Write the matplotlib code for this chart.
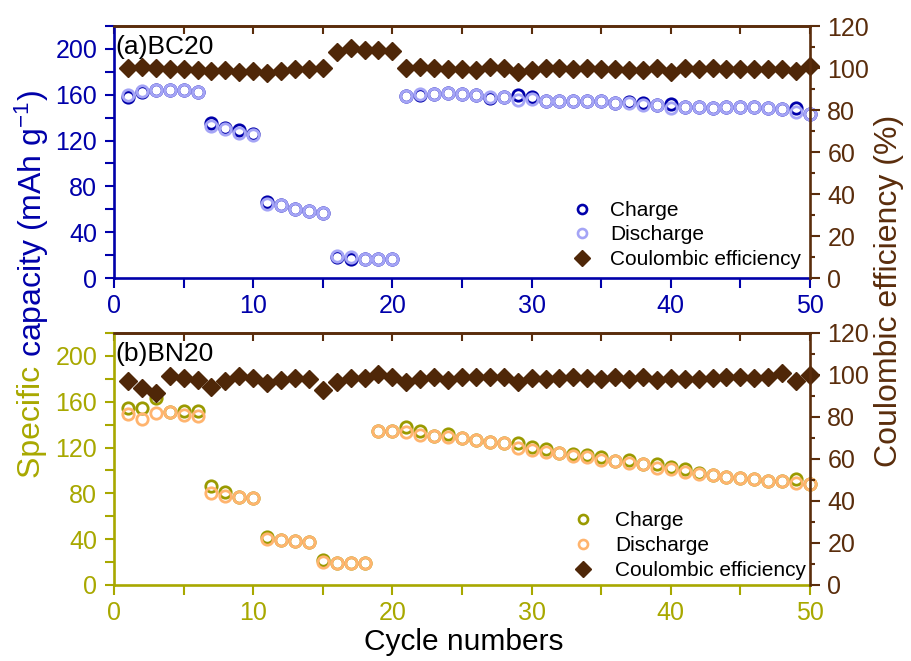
import matplotlib
matplotlib.use("Agg")
import matplotlib.pyplot as plt
from matplotlib.lines import Line2D
from matplotlib.ticker import MultipleLocator
import numpy as np

plt.rcParams['font.family'] = ['Liberation Sans', 'DejaVu Sans']
plt.rcParams['mathtext.fontset'] = 'custom'
plt.rcParams['mathtext.rm'] = 'Liberation Sans'
plt.rcParams['mathtext.it'] = 'Liberation Sans:italic'
plt.rcParams['mathtext.bf'] = 'Liberation Sans:bold'

cycles = list(range(1, 51))

# (a) BC20
bc_charge = [158, 162, 164, 164, 164, 162.5, 135, 131, 129.2, 125.5,
             66.5, 64, 60, 58.5, 56.5, 18, 17, 16.5, 16.3, 16.3,
             158.5, 160, 160.6, 161.2, 160.6, 159.8, 157, 157.7, 159.8, 157.7,
             154.8, 154.8, 154.8, 154.8, 154.2, 152.5, 153.9, 152.5, 150.8, 151.9,
             149.6, 149, 148.4, 149, 149, 149, 148.1, 147.2, 148.1, 143.2]
bc_discharge = [159.5, 163, 164, 164, 164, 162.5, 133, 130.5, 126.3, 124.8,
                64.5, 63.5, 60, 58.5, 56.5, 19.5, 18, 17, 16.3, 16.3,
                159, 161, 160.6, 161.2, 160.6, 159.8, 158, 157.7, 155.4, 156,
                154.8, 154.8, 154.8, 154.8, 154.2, 152.5, 152.5, 151.1, 150.8, 148.1,
                149.6, 149, 148.4, 149, 149, 149, 148.1, 147.2, 145.3, 143.2]
bc_ce = [100, 100.5, 100, 99.6, 99.4, 99, 98.5, 99, 98, 98.7,
         97.5, 98.4, 99.4, 99.6, 100, 107.5, 109.4, 108.4, 108.4, 108.2,
         100, 100.6, 100, 99.4, 99.4, 99, 100.6, 99.8, 98.2, 99,
         100.1, 99.8, 99.7, 99.8, 99.7, 99.5, 99, 99, 100.1, 98.2,
         99.8, 99.5, 100.1, 99.7, 99.5, 99.5, 99.5, 99.4, 98.6, 101]

# (b) BN20
bn_charge = [154.3, 154.3, 163.6, 150.8, 152.2, 152.2, 86.5, 81.5, 77.1, 76.3,
             42.2, 39.3, 38.7, 37.8, 21.8, 19.5, 19.2, 19.2, 134.5, 134.5,
             137.7, 134.5, 130.1, 131.5, 128.5, 126.6, 125.2, 124.3, 124.3, 120.8,
             118.5, 115.6, 114.1, 113.5, 111.5, 108.6, 109.2, 105.4, 105.7, 103.3,
             101, 98.1, 95.8, 94.1, 93.2, 92.3, 90.8, 91.1, 92.3, 87.9]
bn_discharge = [149.3, 144.7, 150, 150.8, 148.8, 147.6, 80.6, 77.7, 77.1, 76.3,
                40.2, 39.3, 38.7, 37.8, 19.8, 19.5, 19.2, 19.2, 134.5, 134.5,
                133.3, 131, 130.1, 129.5, 128, 126.6, 125.2, 124.3, 119.9, 117.9,
                115.9, 115.6, 112.7, 112.1, 109.2, 108.6, 106.8, 105.4, 102.5, 101,
                99, 96.7, 95.8, 94.1, 93.2, 92.3, 90.8, 90.6, 88.8, 87.9]
bn_ce = [97.1, 93.7, 91.3, 99.5, 98.4, 97.6, 94.4, 97.1, 99.5, 98.7,
         96, 97.6, 98.4, 98.1, 92.9, 96.8, 98.4, 98.4, 100.3, 99.2,
         96.8, 98, 99, 97.8, 99.2, 99.2, 99.2, 98.9, 96.8, 98.4,
         97.9, 98.7, 99.2, 98.7, 98.1, 99.2, 97.9, 99.2, 97.6, 98.4,
         98.1, 98.1, 98.7, 98.9, 98.9, 98.4, 98.9, 101.1, 97.1, 100]

panel_labels = ["(a)BC20", "(b)BN20"]
legend_labels = ["Charge", "Discharge", "Coulombic efficiency"]

BLUE = "#0000AA"
LBLUE = "#A4A4F6"
OLIVE = "#A8A800"
OLIVE_M = "#9A9A00"
ORANGE = "#FFB46E"
BROWN = "#5A2D0C"
CE_COL = "#4F2708"

W, H = 911, 661
fig = plt.figure(figsize=(W / 100, H / 100), dpi=100)

def fx(px):
    return px / W

def fy(py):
    return 1 - py / H

L, R = 114, 810
panels = [
    dict(top=26, bot=278, axcol=BLUE, ch=bc_charge, dis=bc_discharge, ce=bc_ce,
         chcol=BLUE, discol=LBLUE, label=panel_labels[0], lab_base=54,
         leg=(582, 207, 0.85, 0.27)),
    dict(top=333, bot=585, axcol=OLIVE, ch=bn_charge, dis=bn_discharge, ce=bn_ce,
         chcol=OLIVE_M, discol=ORANGE, label=panel_labels[1], lab_base=360.5,
         leg=(583, 517, 1.04, 0.29)),
]

TICK_FS = 18
LEG_FS = 15
MS_C = 8.2
MEW_C = 2.0
MS_D = 9.2
for p in panels:
    ax = fig.add_axes([fx(L), fy(p['bot']), fx(R - L), (p['bot'] - p['top']) / H])
    axr = ax.twinx()
    ax.set_xlim(0, 50)
    ax.set_ylim(0, 220)
    axr.set_ylim(0, 120)

    ax.plot(cycles, p['ch'], linestyle='none', marker='o', markersize=MS_C,
            markerfacecolor='none', markeredgecolor=p['chcol'], markeredgewidth=MEW_C,
            clip_on=False)
    ax.plot(cycles, p['dis'], linestyle='none', marker='o', markersize=MS_C,
            markerfacecolor='none', markeredgecolor=p['discol'], markeredgewidth=MEW_C,
            clip_on=False)
    axr.plot(cycles, p['ce'], linestyle='none', marker='D', markersize=MS_D,
             color=CE_COL, clip_on=False)

    for a in (ax, axr):
        for s in a.spines.values():
            s.set_linewidth(1.9)
    ax.spines['left'].set_color(p['axcol'])
    ax.spines['bottom'].set_color(p['axcol'])
    axr.spines['left'].set_visible(False)
    axr.spines['bottom'].set_visible(False)
    axr.spines['right'].set_color(BROWN)
    axr.spines['top'].set_color(BROWN)
    ax.spines['top'].set_visible(False)
    ax.spines['right'].set_visible(False)

    ax.xaxis.set_major_locator(MultipleLocator(10))
    ax.xaxis.set_minor_locator(MultipleLocator(5))
    ax.yaxis.set_major_locator(MultipleLocator(40))
    ax.yaxis.set_minor_locator(MultipleLocator(20))
    axr.yaxis.set_major_locator(MultipleLocator(20))
    axr.yaxis.set_minor_locator(MultipleLocator(10))

    ax.tick_params(axis='x', which='both', direction='out', length=7, width=1.5,
                   color=p['axcol'], labelcolor=p['axcol'], labelsize=TICK_FS, pad=4.5)
    ax.tick_params(axis='y', which='both', direction='out', length=6.5, width=1.5,
                   color=p['axcol'], labelcolor=p['axcol'], labelsize=TICK_FS, pad=5.5)
    axr.tick_params(axis='y', which='major', direction='out', length=7, width=1.5,
                    color=BROWN, labelcolor=BROWN, labelsize=TICK_FS, pad=5.5)
    axr.tick_params(axis='y', which='minor', direction='out', length=3.6, width=1.5,
                    color=BROWN)

    sec = ax.secondary_xaxis('top')
    sec.xaxis.set_major_locator(MultipleLocator(10))
    sec.xaxis.set_minor_locator(MultipleLocator(5))
    sec.tick_params(axis='x', which='both', direction='in', length=6, width=1.5,
                    color=BROWN, labeltop=False)
    sec.spines['top'].set_color(BROWN)
    sec.spines['top'].set_linewidth(1.9)

    fig.text(fx(115), fy(p['lab_base']), p['label'], fontsize=19, color='black',
             ha='left', va='baseline')

    handles = [
        Line2D([], [], linestyle='none', marker='o', markersize=6.5, markerfacecolor='none',
               markeredgecolor=p['chcol'], markeredgewidth=1.9),
        Line2D([], [], linestyle='none', marker='o', markersize=6.5, markerfacecolor='none',
               markeredgecolor=p['discol'], markeredgewidth=1.9),
        Line2D([], [], linestyle='none', marker='D', markersize=8.5, color=CE_COL),
    ]
    mx, my, tp, ls = p['leg']
    fs_px = LEG_FS * 100 / 72
    axr.legend(handles, legend_labels, loc='upper left',
               bbox_to_anchor=(fx(mx - 0.5 * fs_px), fy(my - 0.56 * fs_px + 5.5)),
               bbox_transform=fig.transFigure, frameon=False, fontsize=LEG_FS,
               handlelength=1.0, handletextpad=tp, labelspacing=ls,
               borderpad=0, borderaxespad=0)

# x axis label
fig.text(fx(464), fy(642), "Cycle numbers", fontsize=21.5, ha='center', va='center')

# right y label
fig.text(fx(889), fy(291), "Coulombic efficiency (%)", fontsize=23, color=BROWN,
         rotation=90, ha='center', va='center')

# left two-coloured y label
t1 = fig.text(fx(32), fy(478), "Specific ", fontsize=23, color=OLIVE,
              rotation=90, rotation_mode='anchor', ha='left', va='center')
fig.canvas.draw()
bb = t1.get_window_extent(renderer=fig.canvas.get_renderer())
fig.text(fx(32), bb.y1 / H, "capacity (mAh g$^{-1}$)", fontsize=23, color=BLUE,
         rotation=90, rotation_mode='anchor', ha='left', va='center')

fig.savefig("out.png", dpi=100)
